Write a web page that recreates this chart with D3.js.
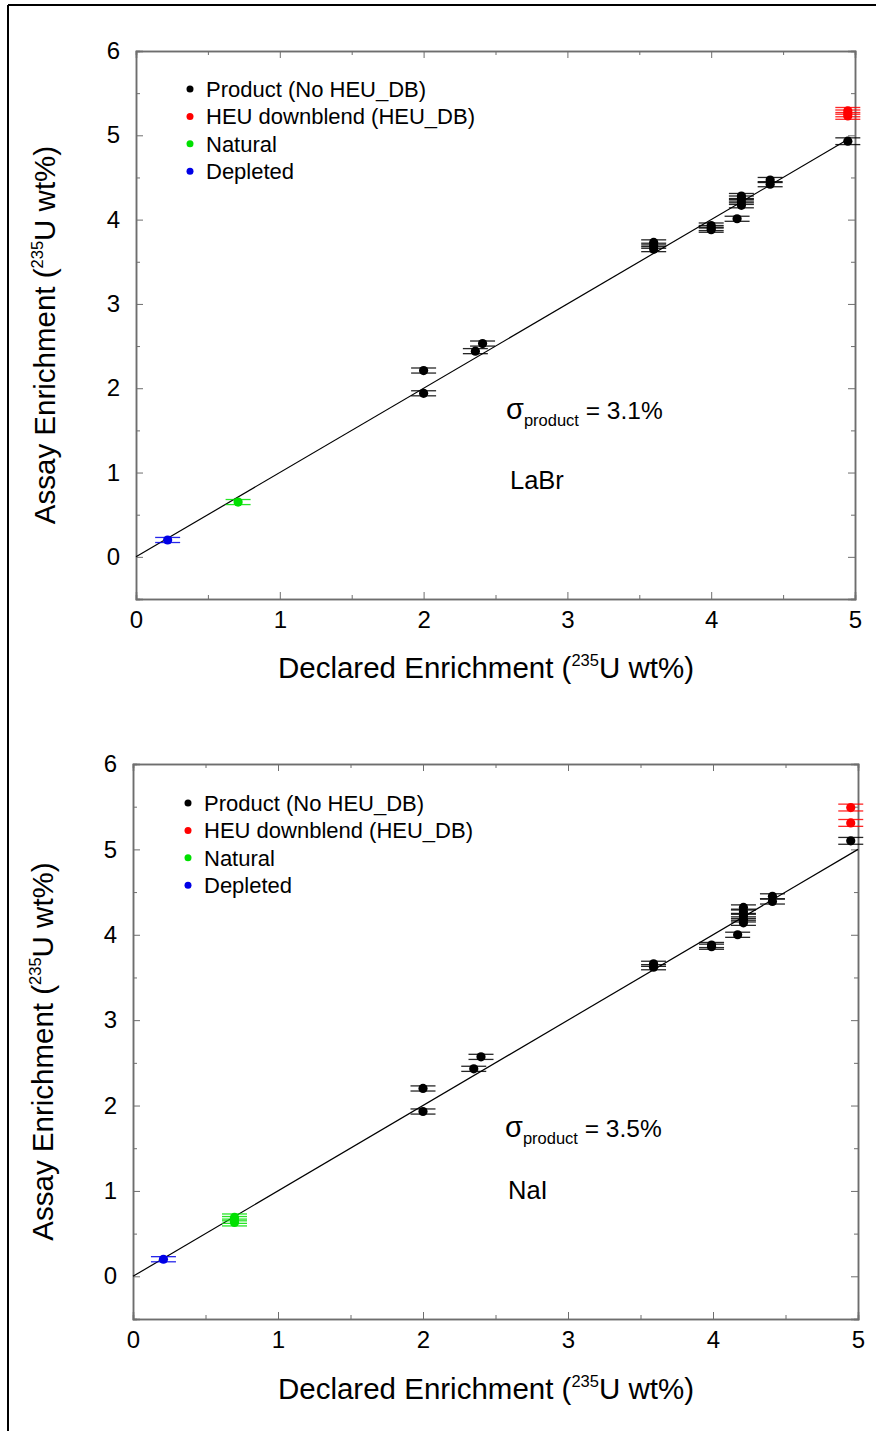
<!DOCTYPE html>
<html>
<head>
<meta charset="utf-8">
<script src="https://cdn.jsdelivr.net/npm/d3@7"></script>
<style>
  html, body { margin: 0; padding: 0; background: #fff; }
  svg { display: block; font-family: "Liberation Sans", Arial, sans-serif; }
</style>
</head>
<body>
<svg id="fig" width="876" height="1431"></svg>
<script>
// ---- data: [declared, assay, assay uncertainty] (235U wt%) ----
const labrProduct = [
  [2.00, 2.21, 0.03], [2.00, 1.94, 0.03],
  [2.36, 2.44, 0.03], [2.41, 2.53, 0.03],
  [3.60, 3.73, 0.03], [3.60, 3.69, 0.03], [3.60, 3.65, 0.03],
  [4.00, 3.93, 0.03], [4.00, 3.90, 0.03], [4.00, 3.88, 0.03],
  [4.18, 4.01, 0.03],
  [4.21, 4.28, 0.03], [4.21, 4.25, 0.03], [4.21, 4.21, 0.03], [4.21, 4.17, 0.03],
  [4.41, 4.47, 0.03], [4.41, 4.42, 0.03],
  [4.95, 4.93, 0.04]
];
const labrHeu = [[4.95, 5.29, 0.04], [4.95, 5.26, 0.04], [4.95, 5.23, 0.04]];
const labrNatural = [[0.71, 0.65, 0.03]];
const labrDepleted = [[0.22, 0.20, 0.03]];

const naiProduct = [
  [2.00, 2.20, 0.03], [2.00, 1.93, 0.03],
  [2.35, 2.43, 0.03], [2.40, 2.57, 0.03],
  [3.59, 3.66, 0.03], [3.59, 3.62, 0.03],
  [3.99, 3.88, 0.03], [3.99, 3.86, 0.03],
  [4.17, 4.00, 0.03],
  [4.21, 4.32, 0.03], [4.21, 4.27, 0.03], [4.21, 4.22, 0.03], [4.21, 4.18, 0.03], [4.21, 4.14, 0.03],
  [4.41, 4.45, 0.03], [4.41, 4.39, 0.03],
  [4.95, 5.10, 0.04]
];
const naiHeu = [[4.95, 5.49, 0.04], [4.95, 5.31, 0.04]];
const naiNatural = [[0.70, 0.69, 0.04], [0.70, 0.66, 0.04], [0.70, 0.63, 0.04]];
const naiDepleted = [[0.21, 0.20, 0.03]];

const legendLabels = ["Product (No HEU_DB)", "HEU downblend (HEU_DB)", "Natural", "Depleted"];
const seriesColors = ["#000000", "#ff0000", "#00e000", "#0000e6"];
const xTicks = [0, 1, 2, 3, 4, 5];
const yTicks = [0, 1, 2, 3, 4, 5, 6];
const xDomain = [0, 5];
const yDomain = [-0.5, 6];
const fitLineLabr = [[0, 0], [4.97, 4.97]];
const fitLineNai = [[0, 0], [5, 5]];

const panels = [
  { box: { left: 136, right: 855, top: 51, bottom: 599 },
    series: [labrProduct, labrHeu, labrNatural, labrDepleted],
    fit: fitLineLabr, sigma: "3.1%", detector: "LaBr",
    legend: { x: 190, y: 89 }, note: { x: 506, y: 419 }, det: { x: 510, y: 489 },
    xTitleX: 486, xTitleY: 678, yTitleX: 55 },
  { box: { left: 133, right: 858, top: 764, bottom: 1319 },
    series: [naiProduct, naiHeu, naiNatural, naiDepleted],
    fit: fitLineNai, sigma: "3.5%", detector: "NaI",
    legend: { x: 188, y: 803 }, note: { x: 505, y: 1137 }, det: { x: 508, y: 1199 },
    xTitleX: 486, xTitleY: 1399, yTitleX: 53 }
];

const svg = d3.select("#fig");

// outer frame
svg.append("line").attr("x1", 8).attr("x2", 876).attr("y1", 5).attr("y2", 5)
  .attr("stroke", "#000").attr("stroke-width", 2);
svg.append("line").attr("x1", 8).attr("x2", 8).attr("y1", 5).attr("y2", 1431)
  .attr("stroke", "#000").attr("stroke-width", 2);

function drawPanel(p) {
  const g = svg.append("g");
  const x = d3.scaleLinear().domain(xDomain).range([p.box.left, p.box.right]);
  const y = d3.scaleLinear().domain(yDomain).range([p.box.bottom, p.box.top]);

  const axisColor = "#6e6e6e";
  const major = 7, minor = 4;
  const xMinor = d3.range(0.5, 5, 1);
  const yMinor = d3.range(-0.5, 6, 1).filter(v => v > -0.5);

  // axes with inward ticks on all four sides
  const bottom = g.append("g").attr("transform", `translate(0,${p.box.bottom})`)
    .call(d3.axisBottom(x).tickValues(xTicks).tickSize(-major).tickPadding(12).tickFormat(d3.format("d")));
  const bottomMinor = g.append("g").attr("transform", `translate(0,${p.box.bottom})`)
    .call(d3.axisBottom(x).tickValues(xMinor).tickSize(-minor).tickFormat(""));
  const top = g.append("g").attr("transform", `translate(0,${p.box.top})`)
    .call(d3.axisTop(x).tickValues(xTicks).tickSize(-major).tickFormat(""));
  const topMinor = g.append("g").attr("transform", `translate(0,${p.box.top})`)
    .call(d3.axisTop(x).tickValues(xMinor).tickSize(-minor).tickFormat(""));
  const left = g.append("g").attr("transform", `translate(${p.box.left},0)`)
    .call(d3.axisLeft(y).tickValues(yTicks).tickSize(-major).tickPadding(16).tickFormat(d3.format("d")));
  const leftMinor = g.append("g").attr("transform", `translate(${p.box.left},0)`)
    .call(d3.axisLeft(y).tickValues(yMinor).tickSize(-minor).tickFormat(""));
  const right = g.append("g").attr("transform", `translate(${p.box.right},0)`)
    .call(d3.axisRight(y).tickValues(yTicks).tickSize(-major).tickFormat(""));
  const rightMinor = g.append("g").attr("transform", `translate(${p.box.right},0)`)
    .call(d3.axisRight(y).tickValues(yMinor).tickSize(-minor).tickFormat(""));

  [bottom, bottomMinor, top, topMinor, left, leftMinor, right, rightMinor].forEach(a => {
    a.select(".domain").attr("stroke", axisColor).attr("stroke-width", 1.5);
    a.selectAll(".tick line").attr("stroke", axisColor).attr("stroke-width", 1);
    a.selectAll(".tick text").attr("fill", "#000").style("font-size", "24px")
      .style("font-family", "'Liberation Sans', Arial, sans-serif");
  });

  // fitted y = x line
  g.append("path")
    .datum(p.fit)
    .attr("d", d3.line().x(d => x(d[0])).y(d => y(d[1])))
    .attr("fill", "none").attr("stroke", "#000").attr("stroke-width", 1.2);

  // error caps + points
  const capHalf = 12.5;
  p.series.forEach((data, i) => {
    const col = seriesColors[i];
    const sg = g.append("g");
    data.forEach(d => {
      [d[1] - d[2], d[1] + d[2]].forEach(v => {
        sg.append("line")
          .attr("x1", x(d[0]) - capHalf).attr("x2", x(d[0]) + capHalf)
          .attr("y1", y(v)).attr("y2", y(v))
          .attr("stroke", col).attr("stroke-width", 1.3).attr("stroke-opacity", 0.85);
      });
      sg.append("line")
        .attr("x1", x(d[0])).attr("x2", x(d[0]))
        .attr("y1", y(d[1] - d[2])).attr("y2", y(d[1] + d[2]))
        .attr("stroke", col).attr("stroke-width", 1.3);
    });
    sg.selectAll("circle").data(data).join("circle")
      .attr("cx", d => x(d[0])).attr("cy", d => y(d[1])).attr("r", 4.6)
      .attr("fill", col);
  });

  // legend
  const lg = g.append("g");
  legendLabels.forEach((lab, i) => {
    const yy = p.legend.y + i * 27.4;
    lg.append("circle").attr("cx", p.legend.x).attr("cy", yy).attr("r", 3.5).attr("fill", seriesColors[i]);
    lg.append("text").attr("x", p.legend.x + 16).attr("y", yy).attr("dy", "0.36em")
      .style("font-size", "22px").attr("fill", "#000").text(lab);
  });

  // sigma annotation
  const nt = g.append("text").attr("x", p.note.x).attr("y", p.note.y).attr("fill", "#000");
  nt.append("tspan").style("font-size", "29px").text("σ");
  nt.append("tspan").style("font-size", "16.5px").attr("dy", 7).text("product");
  nt.append("tspan").style("font-size", "24.5px").attr("dy", -7).text(" = " + p.sigma);

  g.append("text").attr("x", p.det.x).attr("y", p.det.y).style("font-size", "25.5px")
    .attr("fill", "#000").text(p.detector);

  // axis titles
  const xt = g.append("text").attr("x", p.xTitleX).attr("y", p.xTitleY)
    .attr("text-anchor", "middle").style("font-size", "29.5px").attr("fill", "#000");
  xt.append("tspan").text("Declared Enrichment (");
  xt.append("tspan").style("font-size", "16.5px").attr("dy", -12).text("235");
  xt.append("tspan").attr("dy", 12).text("U wt%)");

  const cy = (p.box.top + p.box.bottom) / 2 + 10;
  const yt = g.append("text").attr("transform", `translate(${p.yTitleX},${cy}) rotate(-90)`)
    .attr("text-anchor", "middle").style("font-size", "29.5px").attr("fill", "#000");
  yt.append("tspan").text("Assay Enrichment (");
  yt.append("tspan").style("font-size", "16.5px").attr("dy", -12).text("235");
  yt.append("tspan").attr("dy", 12).text("U wt%)");
}

panels.forEach(drawPanel);
</script>
</body>
</html>
